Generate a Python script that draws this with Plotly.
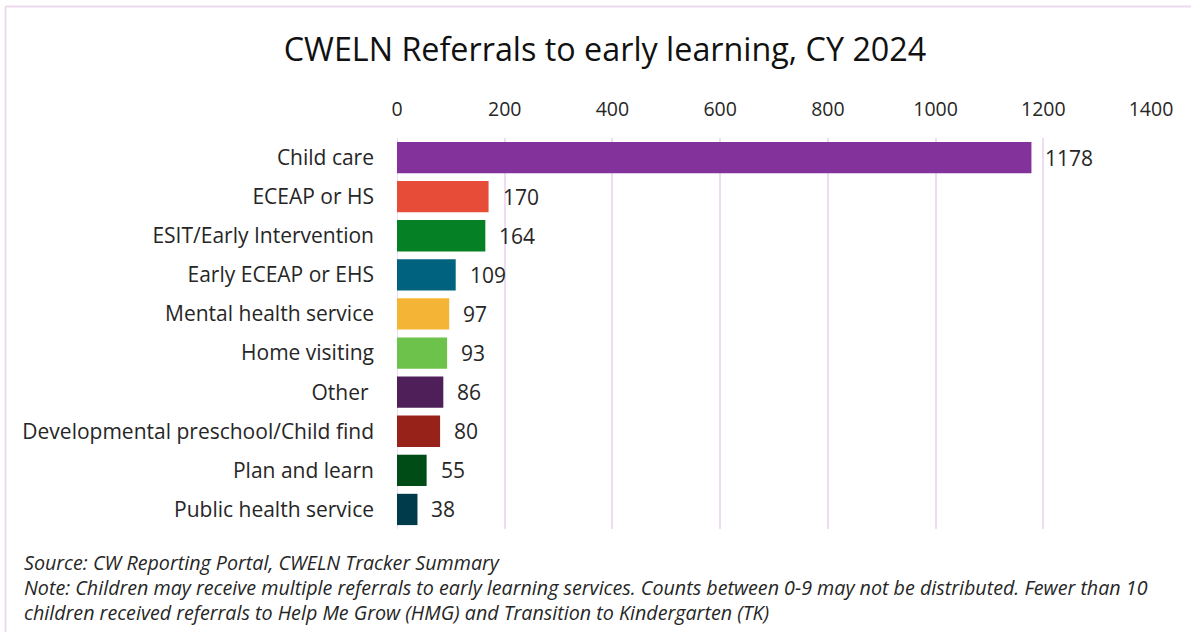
import plotly.graph_objects as go

# Referral counts by service type
categories = [
    "Child care",
    "ECEAP or HS",
    "ESIT/Early Intervention",
    "Early ECEAP or EHS",
    "Mental health service",
    "Home visiting",
    "Other ",
    "Developmental preschool/Child find",
    "Plan and learn",
    "Public health service",
]
referrals = [1178, 170, 164, 109, 97, 93, 86, 80, 55, 38]
bar_colors = [
    "#84329B", "#E64C37", "#068024", "#00627F", "#F4B436",
    "#6CC24A", "#4F1F5A", "#97221A", "#004C16", "#003B4B",
]
x_ticks = [0, 200, 400, 600, 800, 1000, 1200, 1400]

title_text = "CWELN Referrals to early learning, CY 2024"
footnotes = [
    "Source: CW Reporting Portal, CWELN Tracker Summary",
    "Note: Children may receive multiple referrals to early learning services. Counts between 0-9 may not be distributed. Fewer than 10",
    "children received referrals to Help Me Grow (HMG) and Transition to Kindergarten (TK)",
]

FONT = "'Open Sans', sans-serif"
TEXT = "#262626"
GRID = "#EEDDF2"

W, H = 1191, 632
ML, MR, MT, MB = 397, 40, 138, 103
PW, PH = W - ML - MR, H - MT - MB


def px_x(px):
    """Pixel column -> paper x."""
    return (px - ML) / PW


def px_y(py):
    """Pixel row -> paper y."""
    return 1 - (py - MT) / PH


fig = go.Figure(
    go.Bar(
        x=referrals,
        y=categories,
        orientation="h",
        marker=dict(color=bar_colors, line=dict(width=0)),
        width=0.8,
        hoverinfo="x+y",
    )
)

# value labels just past each bar end
for cat, val in zip(categories, referrals):
    fig.add_annotation(
        x=val, y=cat, xref="x", yref="y",
        text=str(val), showarrow=False,
        xanchor="left", yanchor="middle", xshift=12,
        font=dict(family=FONT, size=21, color=TEXT),
    )

# footnote lines
for i, line in enumerate(footnotes):
    fig.add_annotation(
        x=px_x(22), y=px_y(562 + 25 * i), xref="paper", yref="paper",
        text=f"<i>{line}</i>", showarrow=False,
        xanchor="left", yanchor="middle",
        font=dict(family=FONT, size=19.7, color=TEXT),
    )

# chart border (top and left edges)
border = dict(color="#EBD9EE", width=2)
fig.add_shape(type="line", xref="paper", yref="paper",
              x0=px_x(5.5), x1=px_x(W + 5), y0=px_y(6.5), y1=px_y(6.5), line=border)
fig.add_shape(type="line", xref="paper", yref="paper",
              x0=px_x(5.5), x1=px_x(5.5), y0=px_y(6.5), y1=px_y(H + 5), line=border)

fig.update_layout(
    width=W, height=H,
    margin=dict(l=ML, r=MR, t=MT, b=MB, autoexpand=False),
    paper_bgcolor="white", plot_bgcolor="white",
    showlegend=False,
    bargap=0.2,
    title=dict(
        text=title_text, x=605 / W, y=1 - 50 / H,
        xanchor="center", yanchor="middle", xref="container", yref="container",
        font=dict(family=FONT, size=32.3, color="#111111"),
    ),
    xaxis=dict(
        side="top", range=[0, 1400], tickvals=x_ticks,
        showgrid=True, gridcolor=GRID, gridwidth=2,
        zeroline=False, showline=False, ticks="",
        tickfont=dict(family=FONT, size=19.5, color=TEXT),
        ticklabelstandoff=17,
        fixedrange=True,
    ),
    yaxis=dict(
        categoryorder="array", categoryarray=categories,
        autorange="reversed",
        showgrid=False, zeroline=False, showline=False, ticks="",
        tickfont=dict(family=FONT, size=21, color=TEXT),
        ticklabelstandoff=22,
        fixedrange=True,
    ),
)

# line at zero, drawn beneath the bars like the other gridlines
fig.add_shape(type="line", xref="x", yref="paper", x0=0, x1=0, y0=0, y1=1,
              line=dict(color=GRID, width=2), layer="below")

fig.write_html("out.html")
